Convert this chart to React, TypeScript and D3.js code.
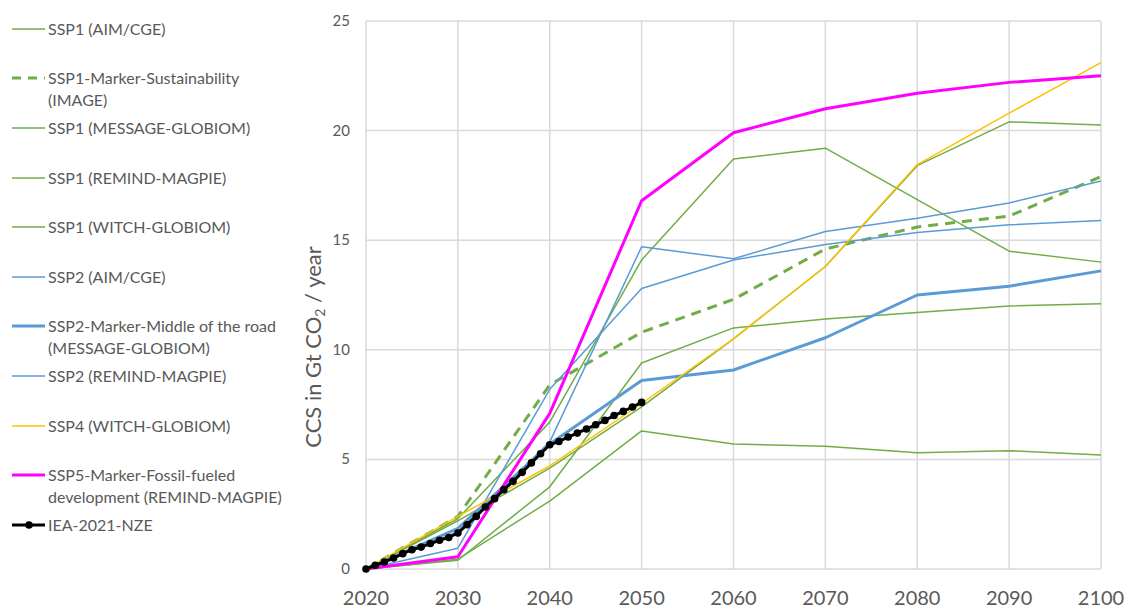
import React, { useEffect, useRef } from 'react'
import * as d3 from 'd3'

const decades = [2020, 2030, 2040, 2050, 2060, 2070, 2080, 2090, 2100]
const yTicks = [0, 5, 10, 15, 20, 25]

const ssp1Aim = [0, 2.3, 6.7, 14.1, 18.7, 19.2, 16.85, 14.5, 14.0]
const ssp1Image = [0, 2.4, 8.4, 10.8, 12.3, 14.6, 15.6, 16.1, 17.9]
const ssp1Message = [0, 0.4, 3.75, 9.4, 11.0, 11.4, 11.7, 12.0, 12.1]
const ssp1Remind = [0, 2.2, 4.6, 7.4, 10.5, 13.8, 18.4, 20.4, 20.25]
const ssp1Witch = [0, 0.45, 3.1, 6.3, 5.7, 5.6, 5.3, 5.4, 5.2]
const ssp2Aim = [0, 1.7, 5.8, 14.7, 14.15, 15.4, 16.0, 16.7, 17.7]
const ssp2Message = [0, 1.85, 5.7, 8.6, 9.08, 10.55, 12.5, 12.9, 13.6]
const ssp2Remind = [0, 0.95, 8.2, 12.8, 14.1, 14.8, 15.35, 15.7, 15.9]
const ssp4Witch = [0, 2.4, 4.7, 7.55, 10.5, 13.8, 18.45, 20.8, 23.1]
const ssp5Remind = [0, 0.56, 7.1, 16.8, 19.9, 21.0, 21.7, 22.2, 22.5]

const ieaYears = d3.range(2020, 2051)
const ieaValues = [0, 0.17, 0.32, 0.5, 0.7, 0.88, 1.0, 1.16, 1.31, 1.44, 1.64,
  2.02, 2.4, 2.83, 3.21, 3.62, 4.0, 4.41, 4.84, 5.26, 5.67,
  5.82, 6.02, 6.2, 6.39, 6.58, 6.78, 7.0, 7.19, 7.39, 7.6]

const GREEN = '#70ad47'
const BLUE = '#5b9bd5'

const series = [
  { name: ['SSP1 (AIM/CGE)'], values: ssp1Aim, color: GREEN, width: 1.5, dash: '', ly: 29 },
  { name: ['SSP1-Marker-Sustainability', '(IMAGE)'], values: ssp1Image, color: GREEN, width: 3, dash: '10,7', ly: 78 },
  { name: ['SSP1 (MESSAGE-GLOBIOM)'], values: ssp1Message, color: GREEN, width: 1.5, dash: '', ly: 128 },
  { name: ['SSP1 (REMIND-MAGPIE)'], values: ssp1Remind, color: GREEN, width: 1.5, dash: '', ly: 178 },
  { name: ['SSP1 (WITCH-GLOBIOM)'], values: ssp1Witch, color: GREEN, width: 1.5, dash: '', ly: 227 },
  { name: ['SSP2 (AIM/CGE)'], values: ssp2Aim, color: BLUE, width: 1.5, dash: '', ly: 277 },
  { name: ['SSP2-Marker-Middle of the road', '(MESSAGE-GLOBIOM)'], values: ssp2Message, color: BLUE, width: 3, dash: '', ly: 326 },
  { name: ['SSP2 (REMIND-MAGPIE)'], values: ssp2Remind, color: BLUE, width: 1.5, dash: '', ly: 376 },
  { name: ['SSP4 (WITCH-GLOBIOM)'], values: ssp4Witch, color: '#ffc000', width: 1.5, dash: '', ly: 426 },
  { name: ['SSP5-Marker-Fossil-fueled', 'development (REMIND-MAGPIE)'], values: ssp5Remind, color: '#ff00ff', width: 3, dash: '', ly: 475 },
]

export default function App() {
  const ref = useRef<SVGSVGElement | null>(null)
  const width = 1125
  const height = 608

  useEffect(() => {
    const svg = d3.select(ref.current)
    svg.selectAll('*').remove()
    const font = 'Lato, "Open Sans", sans-serif'
    const x = d3.scaleLinear().domain([2020, 2100]).range([366, 1101])
    const y = d3.scaleLinear().domain([0, 25]).range([569, 21])

    const grid = svg.append('g')
    grid.selectAll('line.v').data(decades).enter().append('line')
      .attr('x1', d => x(d)).attr('x2', d => x(d))
      .attr('y1', y(25)).attr('y2', y(0))
      .attr('stroke', '#d9d9d9').attr('stroke-width', 1.5)
    grid.selectAll('line.h').data(yTicks).enter().append('line')
      .attr('x1', x(2020)).attr('x2', x(2100))
      .attr('y1', d => y(d)).attr('y2', d => y(d))
      .attr('stroke', '#d9d9d9').attr('stroke-width', 1.5)

    svg.append('g').selectAll('text').data(yTicks).enter().append('text')
      .attr('x', 350).attr('y', d => y(d) + 5)
      .attr('text-anchor', 'end')
      .attr('font-family', font).attr('font-size', 15).attr('fill', '#595959')
      .text(d => d)

    svg.append('g').selectAll('text').data(decades).enter().append('text')
      .attr('x', d => x(d)).attr('y', 605)
      .attr('text-anchor', 'middle')
      .attr('font-family', font).attr('font-size', 20).attr('fill', '#595959')
      .text(d => d)

    const yl = svg.append('text')
      .attr('transform', 'translate(321,347) rotate(-90)')
      .attr('text-anchor', 'middle')
      .attr('font-family', font).attr('font-size', 22).attr('fill', '#595959')
    yl.append('tspan').text('CCS in Gt CO')
    yl.append('tspan').attr('font-size', 14).attr('dy', 4).text('2')
    yl.append('tspan').attr('dy', -4).text(' / year')

    const line = d3.line<number>().x((d, i) => x(decades[i])).y(d => y(d))
    const drawOrder = [4, 2, 3, 0, 1, 5, 7, 6, 8, 9]
    drawOrder.forEach(i => {
      const s = series[i]
      svg.append('path').attr('d', line(s.values) as string)
        .attr('fill', 'none').attr('stroke', s.color)
        .attr('stroke-width', s.width).attr('stroke-dasharray', s.dash || null)
        .attr('stroke-linejoin', 'round')
    })

    const ieaLine = d3.line<number>().x((d, i) => x(ieaYears[i])).y(d => y(d))
    svg.append('path').attr('d', ieaLine(ieaValues) as string)
      .attr('fill', 'none').attr('stroke', '#000').attr('stroke-width', 3)
    svg.append('g').selectAll('circle').data(ieaValues).enter().append('circle')
      .attr('cx', (d, i) => x(ieaYears[i])).attr('cy', d => y(d)).attr('r', 3.8)
      .attr('fill', '#000')

    const leg = svg.append('g')
    series.forEach(s => {
      leg.append('line').attr('x1', 12).attr('x2', 45).attr('y1', s.ly).attr('y2', s.ly)
        .attr('stroke', s.color).attr('stroke-width', s.width)
        .attr('stroke-dasharray', s.dash ? '9,7' : null)
      s.name.forEach((t, k) => {
        leg.append('text').attr('x', 48).attr('y', s.ly + 6 + k * 22)
          .attr('font-family', font).attr('font-size', 16).attr('fill', '#595959')
          .text(t)
      })
    })
    leg.append('line').attr('x1', 12).attr('x2', 45).attr('y1', 525).attr('y2', 525)
      .attr('stroke', '#000').attr('stroke-width', 3)
    leg.append('circle').attr('cx', 29).attr('cy', 525).attr('r', 3.8).attr('fill', '#000')
    leg.append('text').attr('x', 48).attr('y', 531)
      .attr('font-family', font).attr('font-size', 16).attr('fill', '#595959')
      .text('IEA-2021-NZE')
  }, [])

  return (
    <div style={{ position: 'absolute', left: 0, top: 0 }}>
      <svg ref={ref} width={width} height={height} style={{ display: 'block', background: '#fff' }} />
    </div>
  )
}
